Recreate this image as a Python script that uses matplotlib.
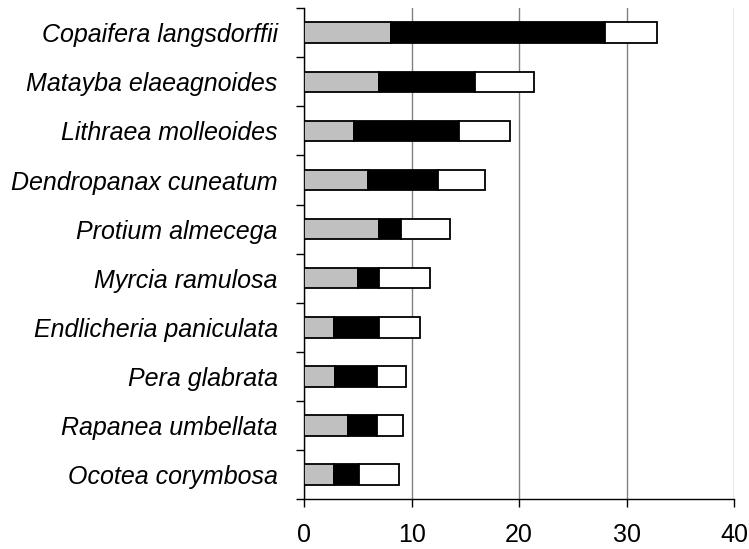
import numpy as np
import matplotlib
matplotlib.use('Agg')
import matplotlib.pyplot as plt

species = ['Copaifera langsdorffii', 'Matayba elaeagnoides', 'Lithraea molleoides',
           'Dendropanax cuneatum', 'Protium almecega', 'Myrcia ramulosa',
           'Endlicheria paniculata', 'Pera glabrata', 'Rapanea umbellata',
           'Ocotea corymbosa']
# cumulative ends
gray_end = [8.1, 7.0, 4.6, 5.9, 7.0, 5.0, 2.8, 2.9, 4.1, 2.8]
black_end = [28.0, 15.9, 14.4, 12.5, 9.0, 7.0, 7.0, 6.8, 6.8, 5.1]
total = [32.8, 21.4, 19.2, 16.8, 13.6, 11.7, 10.8, 9.5, 9.2, 8.8]

plt.rcParams['font.family'] = ['Liberation Sans', 'DejaVu Sans']

fig = plt.figure(figsize=(7.49, 5.49), dpi=100)
ax = fig.add_axes([0.406, 0.091, 0.574, 0.894])

n = len(species)
y = np.arange(n)[::-1]
g = np.array(gray_end)
b = np.array(black_end)
t = np.array(total)
h = 0.42
ax.barh(y, g, height=h, color='#c0c0c0', edgecolor='black', linewidth=1.3, zorder=3)
ax.barh(y, b - g, left=g, height=h, color='black', edgecolor='black', linewidth=1.3, zorder=3)
ax.barh(y, t - b, left=b, height=h, color='white', edgecolor='black', linewidth=1.3, zorder=3)

ax.set_xlim(0, 40)
ax.set_ylim(-0.5, n - 0.5)
ax.set_xticks([0, 10, 20, 30, 40])
ax.set_xticklabels(['0', '10', '20', '30', '40'], fontsize=18)
ax.set_yticks(y)
ax.set_yticklabels(species, fontsize=18, style='italic')
ax.set_yticks(np.arange(n + 1) - 0.5, minor=True)
ax.tick_params(axis='y', which='major', length=0, pad=19)
ax.tick_params(axis='y', which='minor', length=6, width=1, direction='out')
ax.tick_params(axis='x', length=6, width=1, direction='out', pad=11)
ax.xaxis.grid(True, color='#808080', linewidth=1, zorder=0)
ax.set_axisbelow(True)
for s in ['top', 'right']:
    ax.spines[s].set_visible(False)
for s in ['left', 'bottom']:
    ax.spines[s].set_linewidth(1)

fig.savefig('out.png', dpi=100)
